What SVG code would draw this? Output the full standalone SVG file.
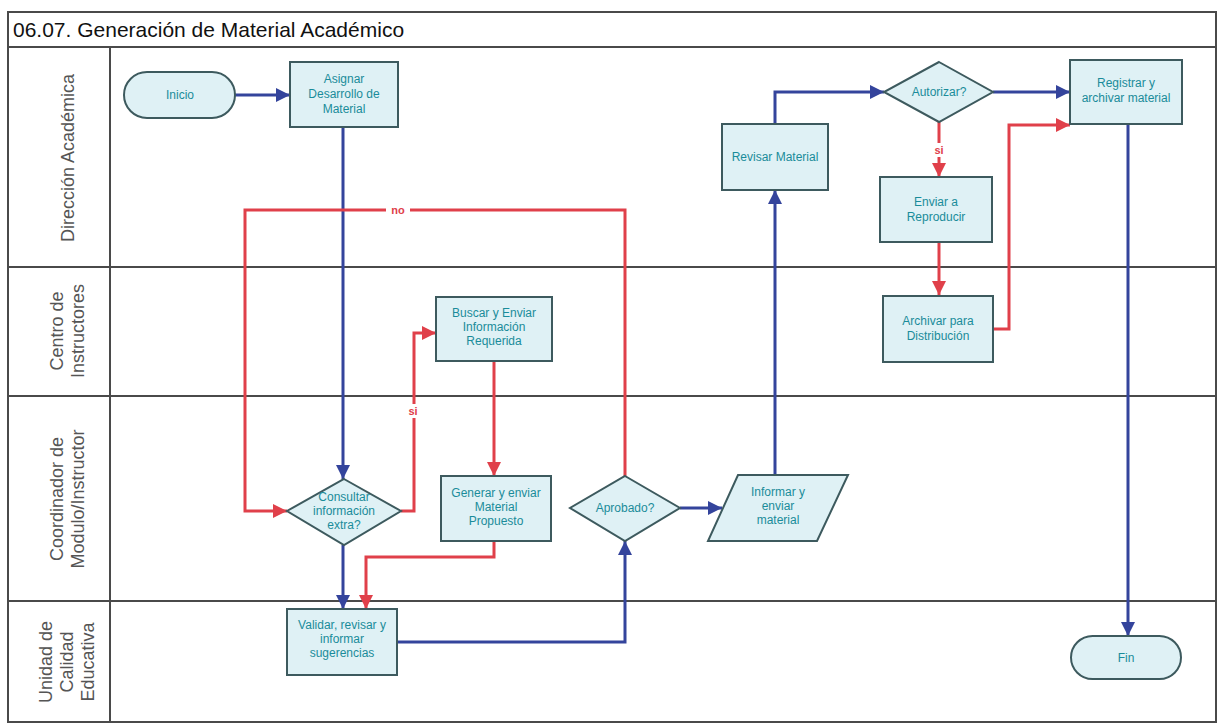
<svg xmlns="http://www.w3.org/2000/svg" width="1220" height="725" viewBox="0 0 1220 725">
  <style>
    .frame { fill: none; stroke: #4a4a4a; stroke-width: 2; }
    .lane { stroke: #4a4a4a; stroke-width: 2; }
    .title { font-family: "Liberation Sans", Arial, sans-serif; font-size: 21px; fill: #111; }
    .lanelbl { font-family: "Liberation Sans", Arial, sans-serif; font-size: 18px; fill: #555; text-anchor: middle; }
    .box { fill: #dff1f5; stroke: #3d5a5e; stroke-width: 2; }
    .lbl { font-family: "Liberation Sans", Arial, sans-serif; font-size: 12px; fill: #1a8c9a; text-anchor: middle; }
    .blue { fill: none; stroke: #34449c; stroke-width: 3; }
    .red { fill: none; stroke: #e0404a; stroke-width: 3; }
    .redtxt { font-family: "Liberation Sans", Arial, sans-serif; font-size: 11px; fill: #e0404a; text-anchor: middle; font-weight: bold; }
  </style>
  <defs>
    <marker id="ab" viewBox="0 0 10 10" refX="10" refY="5" markerWidth="16" markerHeight="14" markerUnits="userSpaceOnUse" orient="auto">
      <path d="M0,0 L10,5 L0,10 z" fill="#34449c"/>
    </marker>
    <marker id="ar" viewBox="0 0 10 10" refX="10" refY="5" markerWidth="16" markerHeight="14" markerUnits="userSpaceOnUse" orient="auto">
      <path d="M0,0 L10,5 L0,10 z" fill="#e0404a"/>
    </marker>
  </defs>

  <rect width="1220" height="725" fill="#ffffff"/>

  <!-- pool frame, title bar and swimlanes -->
  <g id="pool">
    <rect class="frame" x="8" y="12" width="1208" height="710"/>
    <line class="lane" x1="8" y1="47" x2="1216" y2="47"/>
    <line class="lane" x1="110" y1="47" x2="110" y2="722"/>
    <line class="lane" x1="8" y1="267" x2="1216" y2="267"/>
    <line class="lane" x1="8" y1="396" x2="1216" y2="396"/>
    <line class="lane" x1="8" y1="601" x2="1216" y2="601"/>
    <text class="title" x="13" y="37">06.07. Generación de Material Académico</text>
    <text class="lanelbl" transform="translate(74,158) rotate(-90)">Dirección Académica</text>
    <text class="lanelbl" transform="translate(63,331) rotate(-90)">Centro de</text>
    <text class="lanelbl" transform="translate(84,331) rotate(-90)">Instructores</text>
    <text class="lanelbl" transform="translate(63,499) rotate(-90)">Coordinador de</text>
    <text class="lanelbl" transform="translate(84,499) rotate(-90)">Modulo/Instructor</text>
    <text class="lanelbl" transform="translate(52,662) rotate(-90)">Unidad de</text>
    <text class="lanelbl" transform="translate(73,662) rotate(-90)">Calidad</text>
    <text class="lanelbl" transform="translate(94,662) rotate(-90)">Educativa</text>
  </g>

  <!-- connectors -->
  <g id="connectors">
    <path class="blue" d="M235,95 L290,95" marker-end="url(#ab)"/>
    <path class="blue" d="M343,127 L343,479" marker-end="url(#ab)"/>
    <path class="blue" d="M343,545 L343,609" marker-end="url(#ab)"/>
    <path class="red" d="M401,511 L414,511 L414,333 L436,333" marker-end="url(#ar)"/>
    <path class="red" d="M494,361 L494,476" marker-end="url(#ar)"/>
    <path class="red" d="M494,541 L494,557 L366,557 L366,609" marker-end="url(#ar)"/>
    <path class="blue" d="M397,642 L625,642 L625,541" marker-end="url(#ab)"/>
    <path class="red" d="M625,476 L625,210 L245,210 L245,511 L287,511" marker-end="url(#ar)"/>
    <path class="blue" d="M680,508 L722,508" marker-end="url(#ab)"/>
    <path class="blue" d="M775,475 L775,190" marker-end="url(#ab)"/>
    <path class="blue" d="M775,124 L775,92 L884,92" marker-end="url(#ab)"/>
    <path class="blue" d="M993,92 L1070,92" marker-end="url(#ab)"/>
    <path class="red" d="M939,122 L939,177" marker-end="url(#ar)"/>
    <path class="red" d="M939,242 L939,295" marker-end="url(#ar)"/>
    <path class="red" d="M993,329 L1009,329 L1009,125 L1070,125" marker-end="url(#ar)"/>
    <path class="blue" d="M1128,124 L1128,636" marker-end="url(#ab)"/>
    <rect x="386" y="204" width="24" height="12" fill="#ffffff"/>
    <text class="redtxt" x="398" y="214">no</text>
    <rect x="405" y="404" width="16" height="14" fill="#ffffff"/>
    <text class="redtxt" x="413" y="415">si</text>
    <rect x="931" y="143" width="16" height="14" fill="#ffffff"/>
    <text class="redtxt" x="939" y="154">si</text>
  </g>

  <!-- nodes -->
  <g id="inicio">
    <rect class="box" x="124" y="72" width="111" height="46" rx="23"/>
    <text class="lbl" x="180" y="99">Inicio</text>
  </g>
  <g id="asignar">
    <rect class="box" x="290" y="62" width="108" height="65"/>
    <text class="lbl" x="344" y="83">Asignar</text>
    <text class="lbl" x="344" y="98">Desarrollo de</text>
    <text class="lbl" x="344" y="113">Material</text>
  </g>
  <g id="revisar">
    <rect class="box" x="722" y="124" width="106" height="66"/>
    <text class="lbl" x="775" y="161">Revisar Material</text>
  </g>
  <g id="autorizar">
    <polygon class="box" points="939,62 993,92 939,122 884,92"/>
    <text class="lbl" x="939" y="96">Autorizar?</text>
  </g>
  <g id="registrar">
    <rect class="box" x="1070" y="60" width="112" height="64"/>
    <text class="lbl" x="1126" y="87">Registrar y</text>
    <text class="lbl" x="1126" y="102">archivar material</text>
  </g>
  <g id="enviar-reproducir">
    <rect class="box" x="880" y="177" width="112" height="65"/>
    <text class="lbl" x="936" y="206">Enviar a</text>
    <text class="lbl" x="936" y="221">Reproducir</text>
  </g>
  <g id="archivar">
    <rect class="box" x="883" y="296" width="110" height="66"/>
    <text class="lbl" x="938" y="325">Archivar para</text>
    <text class="lbl" x="938" y="340">Distribución</text>
  </g>
  <g id="buscar">
    <rect class="box" x="436" y="297" width="116" height="64"/>
    <text class="lbl" x="494" y="317">Buscar y Enviar</text>
    <text class="lbl" x="494" y="331">Información</text>
    <text class="lbl" x="494" y="345">Requerida</text>
  </g>
  <g id="consultar">
    <polygon class="box" points="344,479 401,511 344,545 287,511"/>
    <text class="lbl" x="344" y="501">Consultar</text>
    <text class="lbl" x="344" y="515">información</text>
    <text class="lbl" x="344" y="529">extra?</text>
  </g>
  <g id="generar">
    <rect class="box" x="441" y="476" width="110" height="65"/>
    <text class="lbl" x="496" y="497">Generar y enviar</text>
    <text class="lbl" x="496" y="511">Material</text>
    <text class="lbl" x="496" y="525">Propuesto</text>
  </g>
  <g id="aprobado">
    <polygon class="box" points="625,476 680,508 625,541 570,508"/>
    <text class="lbl" x="625" y="512">Aprobado?</text>
  </g>
  <g id="informar">
    <polygon class="box" points="738,475 848,475 817,541 708,541"/>
    <text class="lbl" x="778" y="496">Informar y</text>
    <text class="lbl" x="778" y="510">enviar</text>
    <text class="lbl" x="778" y="524">material</text>
  </g>
  <g id="validar">
    <rect class="box" x="287" y="609" width="110" height="66"/>
    <text class="lbl" x="342" y="629">Validar, revisar y</text>
    <text class="lbl" x="342" y="643">informar</text>
    <text class="lbl" x="342" y="657">sugerencias</text>
  </g>
  <g id="fin">
    <rect class="box" x="1071" y="636" width="110" height="43" rx="21.5"/>
    <text class="lbl" x="1126" y="662">Fin</text>
  </g>
</svg>
